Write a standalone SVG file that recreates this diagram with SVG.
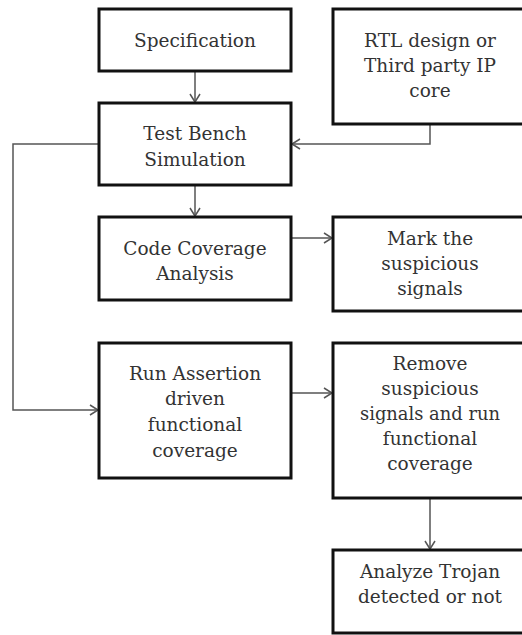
<svg xmlns="http://www.w3.org/2000/svg" width="522" height="635" viewBox="0 0 522 635">
<defs>
<style>
.box{fill:#fff;stroke:#111;stroke-width:3}
.t{font-family:"DejaVu Serif","Liberation Serif",serif;font-size:18.5px;fill:#333;text-anchor:middle}
.c{fill:none;stroke:#555;stroke-width:1.5}
</style>
<marker id="ah" markerWidth="12" markerHeight="12" refX="10" refY="6" orient="auto" markerUnits="userSpaceOnUse">
<path d="M2,1 L10,6 L2,11" fill="none" stroke="#555" stroke-width="1.5"/>
</marker>
</defs>
<rect width="522" height="635" fill="#fff"/>
<g id="connectors">
<path class="c" d="M195,71 V102" marker-end="url(#ah)"/>
<path class="c" d="M430,124 V144 H292" marker-end="url(#ah)"/>
<path class="c" d="M99,144 H13 V410 H98" marker-end="url(#ah)"/>
<path class="c" d="M195,185 V216" marker-end="url(#ah)"/>
<path class="c" d="M291,238 H332" marker-end="url(#ah)"/>
<path class="c" d="M291,393 H332" marker-end="url(#ah)"/>
<path class="c" d="M430,498 V549" marker-end="url(#ah)"/>
</g>
<g id="spec"><rect class="box" x="99" y="9" width="192" height="62"/>
<text class="t" x="195" y="47">Specification</text></g>
<g id="rtl"><rect class="box" x="333" y="9" width="195" height="115"/>
<text class="t" x="430" y="47">RTL design or</text>
<text class="t" x="430" y="72">Third party IP</text>
<text class="t" x="430" y="97">core</text></g>
<g id="tb"><rect class="box" x="99" y="103" width="192" height="82"/>
<text class="t" x="195" y="140">Test Bench</text>
<text class="t" x="195" y="166">Simulation</text></g>
<g id="cca"><rect class="box" x="99" y="217" width="192" height="83"/>
<text class="t" x="195" y="255">Code Coverage</text>
<text class="t" x="195" y="280">Analysis</text></g>
<g id="mark"><rect class="box" x="333" y="217" width="195" height="94"/>
<text class="t" x="430" y="245">Mark the</text>
<text class="t" x="430" y="270">suspicious</text>
<text class="t" x="430" y="295">signals</text></g>
<g id="run"><rect class="box" x="99" y="343" width="192" height="135"/>
<text class="t" x="195" y="380">Run Assertion</text>
<text class="t" x="195" y="405">driven</text>
<text class="t" x="195" y="431">functional</text>
<text class="t" x="195" y="457">coverage</text></g>
<g id="remove"><rect class="box" x="333" y="343" width="195" height="155"/>
<text class="t" x="430" y="370">Remove</text>
<text class="t" x="430" y="395">suspicious</text>
<text class="t" x="430" y="420" textLength="140" lengthAdjust="spacingAndGlyphs">signals and run</text>
<text class="t" x="430" y="445">functional</text>
<text class="t" x="430" y="470">coverage</text></g>
<g id="analyze"><rect class="box" x="333" y="550" width="195" height="83"/>
<text class="t" x="430" y="578">Analyze Trojan</text>
<text class="t" x="430" y="603">detected or not</text></g>
</svg>
